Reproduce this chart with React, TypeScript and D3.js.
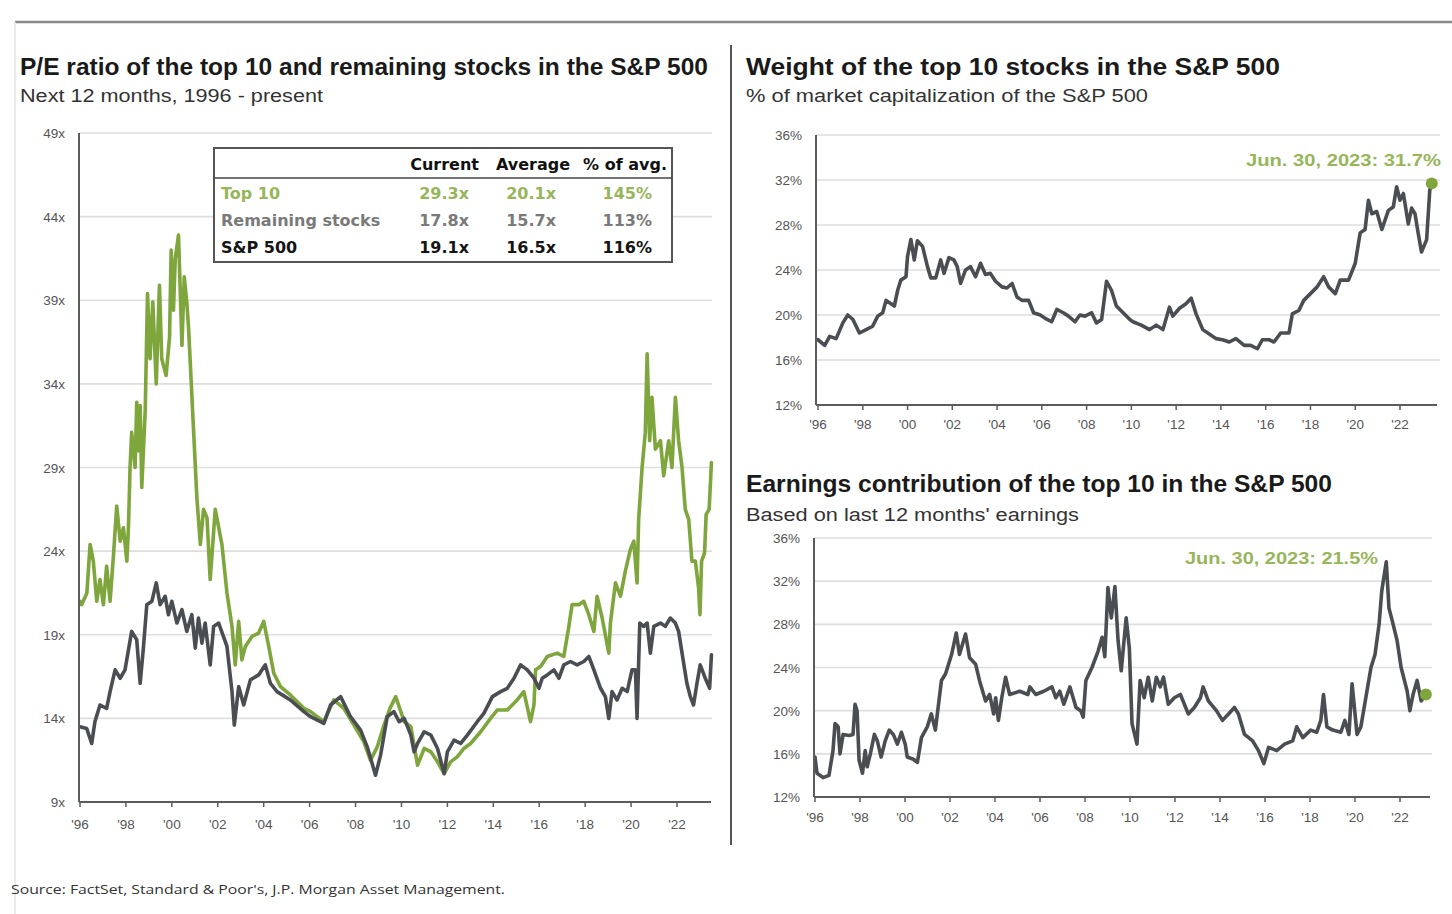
import React from 'react';
import * as d3 from 'd3';

// ---------- data ----------
const yearTicks = [1996, 1998, 2000, 2002, 2004, 2006, 2008, 2010, 2012, 2014, 2016, 2018, 2020, 2022];
const yearTickLabels = ["'96", "'98", "'00", "'02", "'04", "'06", "'08", "'10", "'12", "'14", "'16", "'18", "'20", "'22"];
const peTicks = [9, 14, 19, 24, 29, 34, 39, 44, 49];
const pctTicks = [12, 16, 20, 24, 28, 32, 36];

const peTop10: [number, number][] = [
  [1996.0, 21.0], [1996.07, 20.8], [1996.3, 21.5], [1996.44, 24.4], [1996.58, 23.4], [1996.73, 21.0], [1996.87, 22.3],
  [1997.02, 20.8], [1997.16, 23.1], [1997.31, 21.0], [1997.45, 23.6], [1997.6, 26.7], [1997.75, 24.6],
  [1997.89, 25.4], [1998.04, 23.4], [1998.11, 25.4], [1998.18, 29.0], [1998.25, 31.1], [1998.4, 29.0],
  [1998.47, 32.9], [1998.55, 30.0], [1998.62, 32.7], [1998.69, 27.8], [1998.84, 32.4], [1998.94, 39.4],
  [1999.05, 35.5], [1999.17, 38.9], [1999.32, 34.0], [1999.46, 39.9], [1999.56, 35.5], [1999.75, 34.5],
  [1999.9, 36.8], [1999.97, 42.0], [2000.07, 38.4], [2000.15, 41.5], [2000.29, 42.9], [2000.44, 36.3],
  [2000.54, 40.4], [2000.65, 38.9], [2000.73, 37.3], [2000.95, 31.1], [2001.09, 27.2], [2001.24, 24.4],
  [2001.38, 26.5], [2001.53, 26.0], [2001.67, 22.3], [2001.89, 26.5], [2002.18, 24.4], [2002.4, 21.5],
  [2002.62, 19.5], [2002.76, 17.2], [2002.91, 19.8], [2003.05, 17.5], [2003.2, 18.3], [2003.49, 18.9],
  [2003.78, 19.1], [2004.0, 19.8], [2004.22, 18.3], [2004.44, 16.7], [2004.73, 15.9], [2005.16, 15.4],
  [2005.75, 14.6], [2006.04, 14.4], [2006.62, 13.8], [2007.05, 15.1], [2007.49, 14.6], [2007.93, 13.6],
  [2008.36, 12.6], [2008.65, 11.5], [2008.95, 12.3], [2009.24, 13.6], [2009.5, 14.6], [2009.75, 15.3],
  [2010.12, 13.8], [2010.41, 13.5], [2010.7, 11.2], [2010.99, 12.2], [2011.28, 12.0], [2011.57, 11.4],
  [2011.86, 10.7], [2012.14, 11.4], [2012.43, 11.7], [2012.72, 12.2], [2013.01, 12.5], [2013.45, 13.2],
  [2013.88, 14.0], [2014.17, 14.5], [2014.61, 14.5], [2015.04, 15.1], [2015.33, 15.6], [2015.62, 13.8],
  [2015.77, 14.8], [2015.84, 16.9], [2016.06, 17.1], [2016.35, 17.7], [2016.78, 17.9], [2017.07, 17.7],
  [2017.29, 19.5], [2017.43, 20.8], [2017.72, 20.8], [2017.94, 21.0], [2018.16, 20.2], [2018.38, 19.2],
  [2018.52, 21.3], [2018.74, 20.0], [2019.03, 17.9], [2019.1, 19.7], [2019.32, 22.1], [2019.54, 21.3],
  [2019.75, 22.8], [2019.97, 24.1], [2020.12, 24.6], [2020.26, 22.1], [2020.33, 25.9], [2020.48, 29.0],
  [2020.62, 31.1], [2020.7, 35.8], [2020.81, 30.6], [2020.91, 33.2], [2021.06, 30.1], [2021.28, 30.6],
  [2021.42, 28.5], [2021.64, 30.6], [2021.78, 29.0], [2021.93, 33.2], [2022.07, 30.6], [2022.22, 29.0],
  [2022.36, 26.5], [2022.51, 25.9], [2022.65, 23.4], [2022.8, 23.4], [2022.94, 21.8], [2023.0, 20.2],
  [2023.07, 23.4], [2023.2, 23.9], [2023.27, 26.2], [2023.4, 26.5], [2023.5, 29.3],
];

const peRemaining: [number, number][] = [
  [1996.0, 13.5], [1996.29, 13.4], [1996.51, 12.5], [1996.65, 13.8], [1996.87, 14.8], [1997.16, 14.6],
  [1997.31, 15.6], [1997.53, 16.9], [1997.75, 16.4], [1997.96, 16.9], [1998.25, 19.2], [1998.47, 18.7],
  [1998.62, 16.1], [1998.76, 18.2], [1998.91, 20.8], [1999.13, 21.0], [1999.32, 22.1], [1999.49, 20.8],
  [1999.71, 21.3], [1999.85, 20.2], [2000.0, 21.0], [2000.22, 19.7], [2000.44, 20.5], [2000.65, 19.2],
  [2000.87, 20.2], [2001.02, 18.2], [2001.16, 20.0], [2001.31, 18.5], [2001.45, 19.7], [2001.67, 17.2],
  [2001.82, 19.5], [2002.04, 19.7], [2002.4, 18.3], [2002.62, 15.6], [2002.72, 13.6], [2002.91, 15.9],
  [2003.13, 14.8], [2003.42, 16.3], [2003.78, 16.6], [2004.07, 17.2], [2004.29, 16.1], [2004.58, 15.6],
  [2005.16, 15.1], [2005.75, 14.4], [2006.04, 14.1], [2006.62, 13.7], [2006.91, 14.8], [2007.35, 15.3],
  [2007.78, 14.1], [2008.22, 13.3], [2008.51, 12.3], [2008.87, 10.6], [2009.09, 11.8], [2009.38, 14.1],
  [2009.67, 14.4], [2009.9, 13.8], [2010.12, 14.0], [2010.41, 13.0], [2010.55, 12.0], [2010.7, 12.5],
  [2010.99, 13.2], [2011.28, 13.0], [2011.57, 12.2], [2011.86, 10.7], [2012.0, 12.0], [2012.29, 12.7],
  [2012.58, 12.5], [2012.87, 13.0], [2013.3, 13.8], [2013.59, 14.3], [2013.96, 15.3], [2014.32, 15.6],
  [2014.61, 15.8], [2014.9, 16.4], [2015.19, 17.2], [2015.48, 16.9], [2015.77, 16.4], [2015.99, 15.8],
  [2016.13, 16.4], [2016.35, 16.6], [2016.64, 16.9], [2016.86, 16.4], [2017.07, 17.2], [2017.36, 17.4],
  [2017.65, 17.2], [2017.94, 17.4], [2018.16, 17.7], [2018.38, 16.9], [2018.67, 15.8], [2018.88, 15.3],
  [2019.03, 14.0], [2019.17, 15.6], [2019.39, 15.1], [2019.61, 15.8], [2019.83, 15.6], [2020.04, 16.9],
  [2020.19, 16.9], [2020.26, 14.0], [2020.38, 19.7], [2020.55, 19.5], [2020.7, 19.7], [2020.84, 17.9],
  [2020.99, 19.5], [2021.28, 19.7], [2021.49, 19.5], [2021.71, 20.0], [2021.93, 19.7], [2022.07, 19.2],
  [2022.22, 17.9], [2022.43, 16.1], [2022.58, 15.3], [2022.72, 14.8], [2022.87, 16.1], [2023.01, 17.2],
  [2023.23, 16.4], [2023.42, 15.8], [2023.5, 17.8],
];

const weightTop10: [number, number][] = [
  [1996.0, 17.8], [1996.3, 17.3], [1996.52, 18.1], [1996.81, 17.9], [1997.11, 19.3], [1997.33, 20.0],
  [1997.56, 19.6], [1997.85, 18.4], [1998.15, 18.7], [1998.44, 19.0], [1998.67, 19.9], [1998.89, 20.2],
  [1999.04, 21.3], [1999.26, 21.0], [1999.41, 20.8], [1999.56, 22.2], [1999.7, 23.1], [1999.93, 23.4],
  [2000.0, 25.2], [2000.15, 26.7], [2000.3, 24.9], [2000.44, 26.6], [2000.67, 26.1], [2000.89, 24.3],
  [2001.04, 23.3], [2001.26, 23.3], [2001.48, 24.9], [2001.63, 23.7], [2001.85, 25.1], [2002.07, 24.9],
  [2002.22, 24.3], [2002.37, 22.8], [2002.59, 24.0], [2002.81, 24.3], [2003.04, 23.4], [2003.26, 24.6],
  [2003.48, 23.6], [2003.7, 23.7], [2003.93, 23.0], [2004.22, 22.5], [2004.44, 22.4], [2004.67, 22.8],
  [2004.89, 21.6], [2005.11, 21.3], [2005.41, 21.3], [2005.63, 20.2], [2005.93, 20.0], [2006.15, 19.7],
  [2006.44, 19.4], [2006.67, 20.5], [2006.96, 20.2], [2007.19, 19.9], [2007.48, 19.4], [2007.7, 20.0],
  [2007.93, 19.9], [2008.22, 20.2], [2008.44, 19.3], [2008.67, 19.6], [2008.89, 23.0], [2009.11, 22.2],
  [2009.33, 20.8], [2009.63, 20.2], [2009.93, 19.6], [2010.07, 19.4], [2010.44, 19.1], [2010.81, 18.7],
  [2011.11, 19.1], [2011.41, 18.7], [2011.7, 20.7], [2011.85, 19.9], [2012.15, 20.6], [2012.44, 21.0],
  [2012.67, 21.5], [2012.89, 20.1], [2013.19, 18.7], [2013.56, 18.2], [2013.78, 17.9], [2014.07, 17.8],
  [2014.37, 17.6], [2014.67, 17.9], [2015.04, 17.3], [2015.33, 17.3], [2015.63, 17.0], [2015.85, 17.8],
  [2016.15, 17.8], [2016.37, 17.6], [2016.67, 18.4], [2017.04, 18.4], [2017.19, 20.1], [2017.48, 20.4],
  [2017.7, 21.3], [2018.0, 21.9], [2018.3, 22.5], [2018.59, 23.4], [2018.81, 22.5], [2019.11, 21.9],
  [2019.33, 23.1], [2019.7, 23.1], [2020.0, 24.6], [2020.22, 27.3], [2020.44, 27.6], [2020.59, 30.2],
  [2020.74, 29.0], [2020.96, 29.2], [2021.19, 27.6], [2021.48, 29.3], [2021.7, 29.6], [2021.85, 31.4],
  [2022.0, 30.2], [2022.15, 30.8], [2022.37, 28.1], [2022.52, 29.5], [2022.67, 29.0], [2022.81, 27.3],
  [2022.96, 25.6], [2023.19, 26.7], [2023.33, 31.1], [2023.42, 31.7],
];

const earningsTop10: [number, number][] = [
  [1996.0, 15.7], [1996.09, 14.2], [1996.36, 13.8], [1996.62, 14.0], [1996.8, 16.3], [1996.89, 18.8],
  [1997.03, 18.5], [1997.11, 16.0], [1997.25, 17.8], [1997.52, 17.7], [1997.69, 17.8], [1997.78, 20.6],
  [1997.87, 20.0], [1997.96, 15.4], [1998.11, 14.2], [1998.23, 16.3], [1998.32, 14.8], [1998.46, 16.0],
  [1998.64, 17.8], [1998.77, 17.2], [1998.94, 15.7], [1999.12, 17.2], [1999.3, 18.2], [1999.48, 17.8],
  [1999.66, 16.9], [1999.84, 18.0], [2000.01, 16.9], [2000.1, 15.7], [2000.37, 15.5], [2000.55, 15.2],
  [2000.73, 17.5], [2000.99, 18.5], [2001.17, 19.7], [2001.35, 18.2], [2001.62, 22.8], [2001.8, 23.4],
  [2002.07, 25.2], [2002.28, 27.2], [2002.42, 25.2], [2002.69, 27.1], [2002.87, 24.9], [2003.14, 24.3],
  [2003.31, 22.8], [2003.58, 20.9], [2003.76, 21.5], [2003.94, 19.7], [2004.03, 21.2], [2004.15, 19.1],
  [2004.3, 21.2], [2004.47, 23.1], [2004.65, 21.5], [2005.1, 21.8], [2005.46, 21.5], [2005.55, 22.2],
  [2005.81, 21.5], [2006.17, 21.8], [2006.53, 22.2], [2006.7, 21.2], [2006.88, 21.8], [2007.06, 20.6],
  [2007.33, 22.2], [2007.6, 20.3], [2007.81, 20.0], [2007.92, 19.4], [2008.04, 22.8], [2008.31, 24.0],
  [2008.58, 25.5], [2008.76, 26.8], [2008.88, 25.0], [2009.02, 31.4], [2009.17, 28.6], [2009.33, 31.5],
  [2009.47, 26.5], [2009.61, 23.7], [2009.83, 28.6], [2009.97, 25.8], [2010.09, 18.8], [2010.31, 16.9],
  [2010.45, 22.8], [2010.63, 21.2], [2010.81, 23.1], [2010.99, 20.9], [2011.17, 23.1], [2011.34, 22.2],
  [2011.49, 23.1], [2011.7, 20.6], [2011.97, 21.2], [2012.24, 21.5], [2012.59, 19.7], [2012.86, 20.3],
  [2013.13, 21.2], [2013.25, 22.2], [2013.48, 20.9], [2013.84, 20.0], [2014.11, 19.1], [2014.38, 19.7],
  [2014.64, 20.3], [2014.82, 19.7], [2015.09, 17.8], [2015.45, 17.2], [2015.71, 16.3], [2015.95, 15.1],
  [2016.16, 16.6], [2016.52, 16.3], [2016.87, 16.9], [2017.23, 17.2], [2017.41, 18.5], [2017.68, 17.5],
  [2018.03, 18.2], [2018.3, 18.0], [2018.48, 19.1], [2018.6, 21.5], [2018.75, 18.5], [2019.01, 18.2],
  [2019.37, 18.0], [2019.55, 19.1], [2019.73, 17.8], [2019.87, 22.5], [2020.09, 17.8], [2020.26, 18.5],
  [2020.53, 21.8], [2020.71, 24.0], [2020.89, 25.2], [2021.07, 28.0], [2021.19, 31.1], [2021.39, 33.8],
  [2021.51, 29.5], [2021.66, 28.3], [2021.87, 26.5], [2022.05, 24.0], [2022.32, 21.8], [2022.44, 20.0],
  [2022.58, 21.5], [2022.76, 22.8], [2022.94, 20.9], [2023.15, 21.5],
];

const tableHeader = ['Current', 'Average', '% of avg.'];
const tableRows = ['Top 10', 'Remaining stocks', 'S&P 500'];
const tableCurrent = ['29.3x', '17.8x', '19.1x'];
const tableAverage = ['20.1x', '15.7x', '16.5x'];
const tablePctAvg = ['145%', '113%', '116%'];

// ---------- styles ----------
const GREEN = '#7ea63c';
const GREEN_TXT = '#97b65a';
const DARK = '#4a4e53';
const GRID = '#dedede';
const AXIS = '#5c5c5c';
const TICK_TXT = '#555';
const FONT = '"Liberation Sans", Arial, sans-serif';

type PanelProps = {
  xRange: [number, number];
  yRange: [number, number];
  yDomain: [number, number];
  yTicks: number[];
  yFmt: (v: number) => string;
  axisX: number;
  axisEnd: number;
  gridEnd: number;
  yLabelX: number;
  xLabelDy: number;
  series: { data: [number, number][]; color: string }[];
  dot?: [number, number];
};

function Panel(p: PanelProps) {
  const x = d3.scaleLinear().domain([1996, 2022]).range(p.xRange);
  const y = d3.scaleLinear().domain(p.yDomain).range(p.yRange);
  const line = d3.line<[number, number]>().x(d => x(d[0])).y(d => y(d[1])).curve(d3.curveLinear);
  const y0 = y(p.yDomain[0]);
  const yTop = y(p.yDomain[1]);
  return (
    <g>
      {p.yTicks.filter(t => t !== p.yDomain[0]).map(t => (
        <line key={'g' + t} x1={p.axisX} x2={p.gridEnd} y1={y(t)} y2={y(t)} stroke={GRID} strokeWidth={1.6} />
      ))}
      {p.yTicks.map(t => (
        <text key={'yl' + t} x={p.yLabelX} y={y(t) + 5} textAnchor="end" fontSize={13.5} fill={TICK_TXT} fontFamily={FONT}>
          {p.yFmt(t)}
        </text>
      ))}
      {p.series.map((s, i) => (
        <path key={'s' + i} d={line(s.data) || ''} fill="none" stroke={s.color} strokeWidth={3.6} strokeLinejoin="round" strokeLinecap="round" />
      ))}
      <line x1={p.axisX} x2={p.axisX} y1={yTop} y2={y0} stroke={AXIS} strokeWidth={2} />
      <line x1={p.axisX} x2={p.axisEnd} y1={y0} y2={y0} stroke={AXIS} strokeWidth={2} />
      {yearTicks.map((t, i) => (
        <g key={'xt' + t}>
          <line x1={x(t)} x2={x(t)} y1={y0} y2={y0 + 5} stroke={AXIS} strokeWidth={1.5} />
          <text x={x(t)} y={y0 + p.xLabelDy} textAnchor="middle" fontSize={13.5} fill={TICK_TXT} fontFamily={FONT}>
            {yearTickLabels[i]}
          </text>
        </g>
      ))}
      {p.dot && <circle cx={x(p.dot[0])} cy={y(p.dot[1])} r={6} fill={GREEN} />}
    </g>
  );
}

function T(props: { x: number; y: number; w?: number; size: number; bold?: boolean; fill?: string; anchor?: string; family?: string; children: string }) {
  return (
    <text
      x={props.x}
      y={props.y}
      fontSize={props.size}
      fontWeight={props.bold ? 'bold' : 'normal'}
      fill={props.fill || '#1a1a1a'}
      fontFamily={props.family || FONT}
      textAnchor={props.anchor || 'start'}
      textLength={props.w}
      lengthAdjust={props.w ? 'spacingAndGlyphs' : undefined}
    >
      {props.children}
    </text>
  );
}

export default function App() {
  const lastW = weightTop10[weightTop10.length - 1];
  const lastE = earningsTop10[earningsTop10.length - 1];
  const rowColors = [GREEN_TXT, '#7a7a7a', '#151515'];
  const rowY = [199, 226, 253];
  const TFONT = '"DejaVu Sans", Verdana, sans-serif';
  return (
    <svg width={1452} height={914} style={{ position: 'absolute', left: 0, top: 0, background: '#fff' }}>
      <rect x={0} y={0} width={1452} height={914} fill="#fff" />
      {/* frame lines */}
      <line x1={15} x2={1452} y1={22} y2={22} stroke="#8a8a8a" strokeWidth={2.5} />
      <line x1={15} x2={15} y1={22} y2={914} stroke="#e4e4e4" strokeWidth={1.5} />
      <line x1={731} x2={731} y1={45} y2={845} stroke="#555" strokeWidth={2} />

      {/* Left panel titles */}
      <T x={20} y={75} w={688} size={23} bold>P/E ratio of the top 10 and remaining stocks in the S&amp;P 500</T>
      <T x={20} y={102} w={303} size={17.5} fill="#333">Next 12 months, 1996 - present</T>

      <Panel
        xRange={[80, 677]}
        yRange={[802, 133]}
        yDomain={[9, 49]}
        yTicks={peTicks}
        yFmt={v => v + 'x'}
        axisX={79}
        axisEnd={711}
        gridEnd={712}
        yLabelX={65}
        xLabelDy={27}
        series={[
          { data: peTop10, color: GREEN },
          { data: peRemaining, color: DARK },
        ]}
      />

      {/* Table */}
      <rect x={214} y={148} width={458} height={114} fill="#fff" stroke="#555" strokeWidth={2} />
      <line x1={214} x2={672} y1={178} y2={178} stroke="#444" strokeWidth={1.5} />
      {tableHeader.map((h, i) => (
        <T key={'h' + i} x={[479, 570, 667][i]} y={170} size={16} bold anchor="end" family={TFONT} fill="#111">{h}</T>
      ))}
      {tableRows.map((r, i) => (
        <g key={'r' + i}>
          <T x={221} y={rowY[i]} size={16} bold fill={rowColors[i]} family={TFONT}>{r}</T>
          <T x={469} y={rowY[i]} size={16} bold anchor="end" fill={rowColors[i]} family={TFONT}>{tableCurrent[i]}</T>
          <T x={556} y={rowY[i]} size={16} bold anchor="end" fill={rowColors[i]} family={TFONT}>{tableAverage[i]}</T>
          <T x={652} y={rowY[i]} size={16} bold anchor="end" fill={rowColors[i]} family={TFONT}>{tablePctAvg[i]}</T>
        </g>
      ))}

      {/* Right top */}
      <T x={746} y={75} w={534} size={23} bold>Weight of the top 10 stocks in the S&amp;P 500</T>
      <T x={746} y={102} w={402} size={17.5} fill="#333">% of market capitalization of the S&amp;P 500</T>
      <Panel
        xRange={[818, 1400]}
        yRange={[405, 135]}
        yDomain={[12, 36]}
        yTicks={pctTicks}
        yFmt={v => v + '%'}
        axisX={816}
        axisEnd={1437}
        gridEnd={1440}
        yLabelX={802}
        xLabelDy={24}
        series={[{ data: weightTop10, color: DARK }]}
        dot={lastW}
      />
      <T x={1441} y={166} w={195} size={16} bold anchor="end" fill={GREEN_TXT}>Jun. 30, 2023: 31.7%</T>

      {/* Right bottom */}
      <T x={746} y={492} w={586} size={23} bold>Earnings contribution of the top 10 in the S&amp;P 500</T>
      <T x={746} y={521} w={333} size={17.5} fill="#333">Based on last 12 months' earnings</T>
      <Panel
        xRange={[815, 1400]}
        yRange={[797, 538]}
        yDomain={[12, 36]}
        yTicks={pctTicks}
        yFmt={v => v + '%'}
        axisX={814}
        axisEnd={1430}
        gridEnd={1432}
        yLabelX={800}
        xLabelDy={25}
        series={[{ data: earningsTop10, color: DARK }]}
        dot={lastE}
      />
      <T x={1378} y={564} w={193} size={16} bold anchor="end" fill={GREEN_TXT}>Jun. 30, 2023: 21.5%</T>

      {/* Source */}
      <T x={11} y={894} w={494} size={13} fill="#333" family='"Open Sans", sans-serif'>Source: FactSet, Standard &amp; Poor's, J.P. Morgan Asset Management.</T>
    </svg>
  );
}
